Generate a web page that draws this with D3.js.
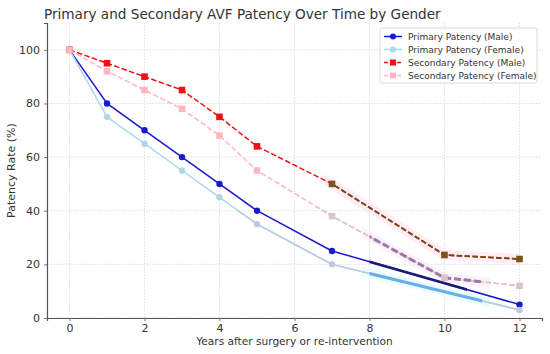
<!DOCTYPE html>
<html>
<head>
<meta charset="utf-8">
<script src="https://cdn.jsdelivr.net/npm/d3@7"></script>
<style>
  body { margin: 0; background: #fff; }
  text { font-family: "DejaVu Sans", sans-serif; fill: #333; }
</style>
</head>
<body>
<div id="chart"></div>
<script>
// years after surgery
const years = [0, 1, 2, 3, 4, 5, 7, 12];
const yearsSecFemale = [0, 1, 2, 3, 4, 5, 7, 10, 12];
const yearsSecMale = [0, 1, 2, 3, 4, 5, 7, 10, 12];

const primaryMale = [100, 80, 70, 60, 50, 40, 25, 5];
const primaryFemale = [100, 75, 65, 55, 45, 35, 20, 3];
const secondaryMale = [100, 95, 90, 85, 75, 64, 50, 23.5, 22];
const secondaryFemale = [100, 92, 85, 78, 68, 55, 38, 15, 12];

const xTicks = [0, 2, 4, 6, 8, 10, 12];
const yTicks = [0, 20, 40, 60, 80, 100];

const seriesNames = ["Primary Patency (Male)", "Primary Patency (Female)",
    "Secondary Patency (Male)", "Secondary Patency (Female)"];

const width = 550, height = 354;
const margin = {top: 23, right: 8, bottom: 36, left: 47};

const svg = d3.select("#chart").append("svg")
    .attr("width", width)
    .attr("height", height);

const x = d3.scaleLinear().domain([-0.6, 12.6]).range([margin.left, width - margin.right]);
const y = d3.scaleLinear().domain([0, 110]).range([height - margin.bottom, margin.top]);

// grid
svg.append("g").selectAll("line.vg")
    .data(xTicks).enter().append("line")
    .attr("x1", d => x(d)).attr("x2", d => x(d))
    .attr("y1", y(0)).attr("y2", y(110))
    .attr("stroke", "#d6d6d6").attr("stroke-width", 0.8)
    .attr("stroke-dasharray", "1.5,1.5");
svg.append("g").selectAll("line.hg")
    .data(yTicks).enter().append("line")
    .attr("x1", x(-0.6)).attr("x2", x(12.6))
    .attr("y1", d => y(d)).attr("y2", d => y(d))
    .attr("stroke", "#d6d6d6").attr("stroke-width", 0.8)
    .attr("stroke-dasharray", "1.5,1.5");

// axes
const xAxis = svg.append("g")
    .attr("transform", `translate(0,${y(0)})`)
    .call(d3.axisBottom(x).tickValues(xTicks).tickSize(3).tickPadding(3));
const yAxis = svg.append("g")
    .attr("transform", `translate(${x(-0.6)},0)`)
    .call(d3.axisLeft(y).tickValues(yTicks).tickSize(3).tickPadding(4));
[xAxis, yAxis].forEach(a => {
    a.select(".domain").attr("stroke", "#555").attr("stroke-width", 1.2);
    a.selectAll(".tick line").attr("stroke", "#777");
    a.selectAll(".tick text").attr("font-size", 11).attr("fill", "#333")
        .attr("font-family", "DejaVu Sans, sans-serif");
});

svg.append("text")
    .attr("x", (x(-0.6) + x(12.6)) / 2)
    .attr("y", 345)
    .attr("text-anchor", "middle")
    .attr("font-size", 10.6)
    .text("Years after surgery or re-intervention");

svg.append("text")
    .attr("transform", `translate(15,${(y(0) + y(110)) / 2}) rotate(-90)`)
    .attr("text-anchor", "middle")
    .attr("font-size", 11)
    .text("Patency Rate (%)");

svg.append("text")
    .attr("x", 44)
    .attr("y", 19)
    .attr("font-size", 13.6)
    .text("Primary and Secondary AVF Patency Over Time by Gender");

// series setup
const series = [
    {name: seriesNames[0], xs: years, ys: primaryMale, color: "#1a1acd", dash: null, marker: "circle"},
    {name: seriesNames[1], xs: years, ys: primaryFemale, color: "#add8e6", dash: null, marker: "circle"},
    {name: seriesNames[2], xs: yearsSecMale, ys: secondaryMale, color: "#ee1111", dash: "5.5,2.4", marker: "square"},
    {name: seriesNames[3], xs: yearsSecFemale, ys: secondaryFemale, color: "#ffb6c1", dash: "5.5,2.4", marker: "square"}
];

const line = d3.line().x(d => x(d[0])).y(d => y(d[1]));
const pts = s => s.xs.map((v, i) => [v, s.ys[i]]);

// clip helper for restyled stretches of a series
let clipId = 0;
function clipRange(from, to) {
    const id = "clip" + (clipId++);
    svg.append("clipPath").attr("id", id).append("rect")
        .attr("x", x(from)).attr("width", x(to) - x(from))
        .attr("y", 0).attr("height", height);
    return `url(#${id})`;
}

// soft halo behind the later segments
const halos = [
    {s: 2, from: 6.8, to: 12.3, color: "#ffe4f2", w: 10},
    {s: 3, from: 7.8, to: 11.2, color: "#fdeaf5", w: 9},
    {s: 1, from: 7.8, to: 11.2, color: "#e0fcff", w: 9}
];
halos.forEach(h => {
    svg.append("path")
        .attr("d", line(pts(series[h.s])))
        .attr("fill", "none")
        .attr("stroke", h.color)
        .attr("stroke-width", h.w)
        .attr("opacity", 0.7)
        .attr("clip-path", clipRange(h.from, h.to));
});

series.forEach(s => {
    svg.append("path")
        .attr("d", line(pts(s)))
        .attr("fill", "none")
        .attr("stroke", s.color)
        .attr("stroke-width", 1.5)
        .attr("stroke-dasharray", s.dash);
});

// restyled stretches
const overlays = [
    {s: 1, from: 4.5, to: 12.1, color: "#bccae0", w: 1.5, dash: null},
    {s: 3, from: 6.5, to: 12.1, color: "#d8c4cc", w: 1.5, dash: "5.5,2.4"},
    {s: 2, from: 7, to: 12.1, color: "#6e4a14", w: 1.8, dash: "5.5,2.4"},
    {s: 3, from: 8, to: 11, color: "#9a78a8", w: 3, dash: "7,3"},
    {s: 0, from: 8, to: 10.6, color: "#1a1a7a", w: 2.6, dash: null},
    {s: 1, from: 8, to: 11, color: "#6aaee8", w: 3, dash: null}
];
overlays.forEach(o => {
    svg.append("path")
        .attr("d", line(pts(series[o.s])))
        .attr("fill", "none")
        .attr("stroke", o.color)
        .attr("stroke-width", o.w)
        .attr("stroke-dasharray", o.dash)
        .attr("clip-path", clipRange(o.from, o.to));
});

// markers
function markerColor(s, xv) {
    if (s === series[2] && xv >= 7) return "#7a5318";
    if (s === series[3] && xv >= 7) return "#d6c6cc";
    if (s === series[1] && xv >= 5) return "#c0c8dc";
    return s.color;
}
series.forEach(s => {
    const g = svg.append("g");
    pts(s).forEach(p => {
        if (s.marker === "circle") {
            g.append("circle")
                .attr("cx", x(p[0])).attr("cy", y(p[1])).attr("r", 3.2)
                .attr("fill", markerColor(s, p[0]));
        } else {
            g.append("rect")
                .attr("x", x(p[0]) - 3.3).attr("y", y(p[1]) - 3.3)
                .attr("width", 6.6).attr("height", 6.6)
                .attr("fill", markerColor(s, p[0]));
        }
    });
});

// legend
const lg = svg.append("g").attr("transform", "translate(380,28)");
lg.append("rect")
    .attr("width", 157).attr("height", 55).attr("rx", 2)
    .attr("fill", "#fff").attr("fill-opacity", 0.85)
    .attr("stroke", "#d0d0d0").attr("stroke-width", 0.8);
series.forEach((s, i) => {
    const row = lg.append("g").attr("transform", `translate(0,${8.5 + i * 13})`);
    row.append("line")
        .attr("x1", 4).attr("x2", 22).attr("y1", 0).attr("y2", 0)
        .attr("stroke", s.color).attr("stroke-width", 1.5)
        .attr("stroke-dasharray", s.dash ? "4,2.5" : null);
    if (s.marker === "circle") {
        row.append("circle").attr("cx", 13).attr("cy", 0).attr("r", 3).attr("fill", s.color);
    } else {
        row.append("rect").attr("x", 10).attr("y", -3).attr("width", 6).attr("height", 6).attr("fill", s.color);
    }
    row.append("text")
        .attr("x", 28).attr("y", 3.3)
        .attr("font-size", 9)
        .text(s.name);
});
</script>
</body>
</html>
